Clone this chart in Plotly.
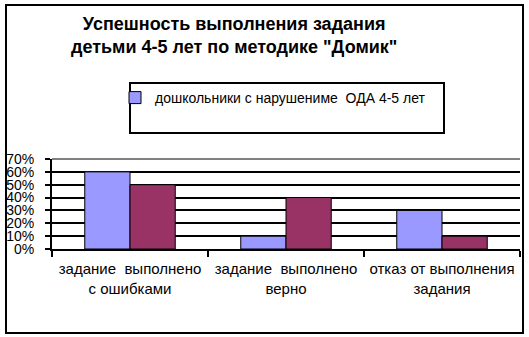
import plotly.graph_objects as go

categories = ["задание  выполнено<br>с ошибками", "задание  выполнено<br>верно", "отказ от выполнения<br>задания"]
series1_name = "дошкольники с нарушениме  ОДА 4-5 лет"
series1 = [0.60, 0.10, 0.30]
series2_name = "дошкольники без нарушений 4-5 лет"
series2 = [0.50, 0.40, 0.10]
ytick_vals = [0, 0.1, 0.2, 0.3, 0.4, 0.5, 0.6, 0.7]
ytick_text = ["0%", "10%", "20%", "30%", "40%", "50%", "60%", "70%"]
title_text = "Успешность выполнения задания<br>детьми 4-5 лет по методике \"Домик\""

FONT = "Arial, 'Liberation Sans', sans-serif"

fig = go.Figure()
fig.add_trace(go.Bar(x=categories, y=series1, name=series1_name,
                     marker=dict(color="#9999FF", line=dict(color="black", width=1))))
fig.add_trace(go.Bar(x=categories, y=series2, name=series2_name, showlegend=False,
                     marker=dict(color="#993366", line=dict(color="black", width=1))))

W, H = 529, 337
L, R, T, B = 52, 9, 159, 88
pw, ph = W - L - R, H - T - B

def px(x):
    return (x - L) / pw

def py(y):
    return (H - B - y) / ph

fig.update_layout(
    width=W, height=H,
    margin=dict(l=L, r=R, t=T, b=B, autoexpand=False),
    paper_bgcolor="white", plot_bgcolor="white",
    font=dict(family=FONT, size=14, color="black"),
    barmode="group", bargap=0.42, bargroupgap=0,
    showlegend=True,
    legend=dict(x=px(115), y=py(98), xanchor="left", yanchor="middle",
                bgcolor="rgba(0,0,0,0)", borderwidth=0, itemwidth=30,
                font=dict(family=FONT, size=14, color="black")),
    xaxis=dict(type="category", showline=True, linecolor="black", linewidth=2,
               ticks="outside", tickson="boundaries", ticklen=6, tickcolor="black",
               tickwidth=2, showgrid=False, tickfont=dict(size=15), ticklabelstandoff=5,
               tickangle=0, automargin=False),
    yaxis=dict(range=[0, 0.7], tickvals=ytick_vals, ticktext=ytick_text,
               showline=True, linecolor="black", linewidth=2,
               ticks="outside", ticklen=5, tickcolor="black", tickwidth=2,
               showgrid=True, gridcolor="black", gridwidth=2, zeroline=False,
               tickfont=dict(size=14), ticklabelstandoff=8, automargin=False),
    annotations=[
        dict(text=title_text, xref="paper", yref="paper", x=px(234), y=py(35),
             xanchor="center", yanchor="middle", showarrow=False, align="center",
             font=dict(family=FONT, size=18, color="black", weight="bold")),
    ],
    shapes=[
        # gray top gridline of plot area
        dict(type="line", xref="paper", yref="paper", x0=0, x1=1, y0=1, y1=1,
             line=dict(color="#808080", width=2)),
        # legend frame
        dict(type="rect", xref="paper", yref="paper", x0=px(130), x1=px(444),
             y0=py(133), y1=py(83), line=dict(color="black", width=2)),
        # outer chart frame
        dict(type="rect", xref="paper", yref="paper", x0=px(6), x1=px(523),
             y0=py(333), y1=py(5), line=dict(color="black", width=2)),
    ],
)

fig.write_html("out.html")
